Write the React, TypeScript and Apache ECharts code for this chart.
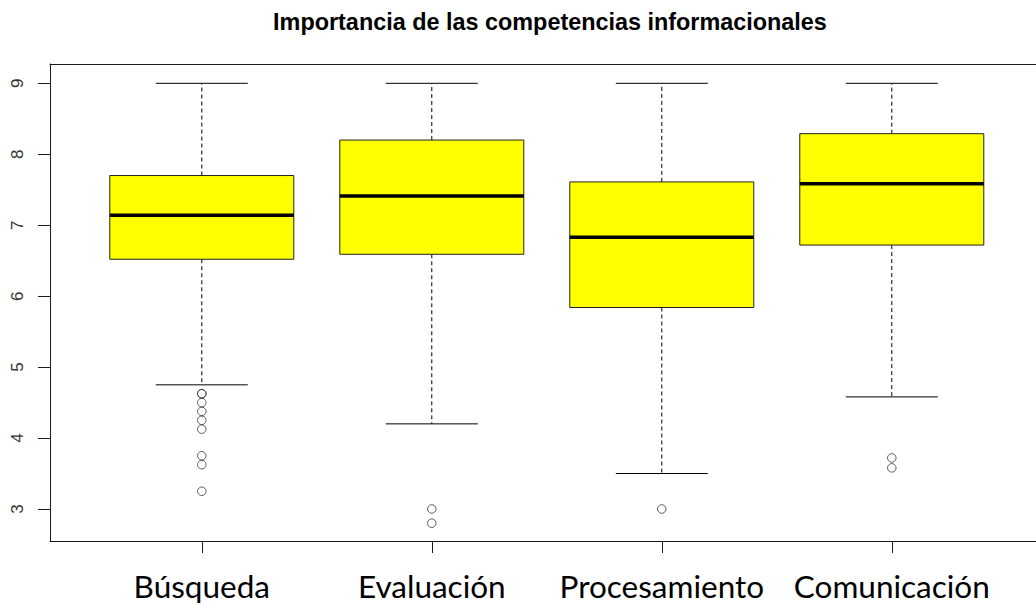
import React, { useEffect, useRef } from "react";
import * as echarts from "echarts";

const title = "Importancia de las competencias informacionales";
const categories = ["Búsqueda", "Evaluación", "Procesamiento", "Comunicación"];
const whiskerLow = [4.75, 4.2, 3.5, 4.58];
const q1 = [6.52, 6.59, 5.84, 6.72];
const median = [7.14, 7.41, 6.83, 7.585];
const q3 = [7.7, 8.2, 7.61, 8.29];
const whiskerHigh = [9, 9, 9, 9];
// [category index, value]
const outliers: [number, number][] = [
  [0, 4.625], [0, 4.625], [0, 4.5], [0, 4.375], [0, 4.25], [0, 4.125],
  [0, 3.75], [0, 3.625], [0, 3.25],
  [1, 3.0], [1, 2.8],
  [2, 3.0],
  [3, 3.72], [3, 3.58],
];
const yTicks = [3, 4, 5, 6, 7, 8, 9];
const xTicks = [1, 2, 3, 4];

export default function App() {
  const ref = useRef<HTMLDivElement>(null);
  useEffect(() => {
    if (!ref.current) return;
    const chart = echarts.init(ref.current, null, { renderer: "svg" });
    const boxData = categories.map((_, i) => [
      i + 1, whiskerLow[i], q1[i], median[i], q3[i], whiskerHigh[i],
    ]);
    const ink = "#1a1a1a";
    chart.setOption({
      animation: false,
      backgroundColor: "#ffffff",
      title: {
        text: title,
        left: 545,
        top: 5,
        textAlign: "center",
        textStyle: {
          fontFamily: "Liberation Sans",
          fontWeight: "bold",
          fontSize: 23.4,
          color: "#000",
        },
      },
      grid: { left: 50, right: 0, top: 64, bottom: 64, containLabel: false },
      xAxis: [
        {
          type: "value",
          min: 0.34,
          max: 4.627,
          axisLine: { show: true, onZero: false, lineStyle: { color: ink, width: 1 } },
          axisTick: { show: true, customValues: xTicks, length: 12, lineStyle: { color: ink } },
          axisLabel: {
            customValues: xTicks,
            formatter: (v: number) => categories[Math.round(v) - 1] ?? "",
            fontFamily: "Lato",
            fontSize: 31.5,
            color: "#000",
            margin: 29,
          },
          splitLine: { show: false },
        },
        {
          type: "value",
          position: "top",
          min: 0.34,
          max: 4.627,
          axisLine: { show: true, onZero: false, lineStyle: { color: ink, width: 1 } },
          axisTick: { show: false },
          axisLabel: { show: false },
          splitLine: { show: false },
        },
      ],
      yAxis: {
        type: "value",
        min: 2.549,
        max: 9.272,
        axisLine: { show: true, onZero: false, lineStyle: { color: ink, width: 1 } },
        axisTick: { show: true, customValues: yTicks, length: 12, lineStyle: { color: ink } },
        axisLabel: {
          customValues: yTicks,
          rotate: 90,
          fontFamily: "Liberation Sans",
          fontSize: 17,
          color: "#333",
          margin: 24,
        },
        splitLine: { show: false },
      },
      series: [
        {
          type: "custom",
          xAxisIndex: 0,
          encode: { x: 0, y: [1, 2, 3, 4, 5] },
          data: boxData,
          renderItem: (params: any, api: any) => {
            const x = api.value(0);
            const pLow = api.coord([x, api.value(1)]);
            const pQ1 = api.coord([x, api.value(2)]);
            const pMed = api.coord([x, api.value(3)]);
            const pQ3 = api.coord([x, api.value(4)]);
            const pHigh = api.coord([x, api.value(5)]);
            const unit = api.size([1, 0])[0];
            const cx = pMed[0];
            const bh = unit * 0.4;
            const ch = unit * 0.2;
            const dash = { stroke: "#000", lineWidth: 1, lineDash: [4, 3] };
            const solid = { stroke: "#000", lineWidth: 1 };
            return {
              type: "group",
              children: [
                { type: "line", shape: { x1: cx, y1: pQ3[1], x2: cx, y2: pHigh[1] }, style: dash },
                { type: "line", shape: { x1: cx, y1: pQ1[1], x2: cx, y2: pLow[1] }, style: dash },
                { type: "line", shape: { x1: cx - ch, y1: pHigh[1], x2: cx + ch, y2: pHigh[1] }, style: solid },
                { type: "line", shape: { x1: cx - ch, y1: pLow[1], x2: cx + ch, y2: pLow[1] }, style: solid },
                {
                  type: "rect",
                  shape: { x: cx - bh, y: pQ3[1], width: bh * 2, height: pQ1[1] - pQ3[1] },
                  style: { fill: "#ffff00", stroke: "#222", lineWidth: 1 },
                },
                {
                  type: "line",
                  shape: { x1: cx - bh, y1: pMed[1], x2: cx + bh, y2: pMed[1] },
                  style: { stroke: "#000", lineWidth: 3.5 },
                },
              ],
            };
          },
        },
        {
          type: "scatter",
          xAxisIndex: 0,
          data: outliers.map(([i, v]) => [i + 1, v]),
          symbol: "circle",
          symbolSize: 8.5,
          itemStyle: { color: "rgba(255,255,255,0)", borderColor: "#333", borderWidth: 1 },
        },
      ],
    });
    return () => chart.dispose();
  }, []);
  return (
    <div
      ref={ref}
      style={{ position: "fixed", left: 0, top: 0, width: 1036, height: 605 }}
    />
  );
}
